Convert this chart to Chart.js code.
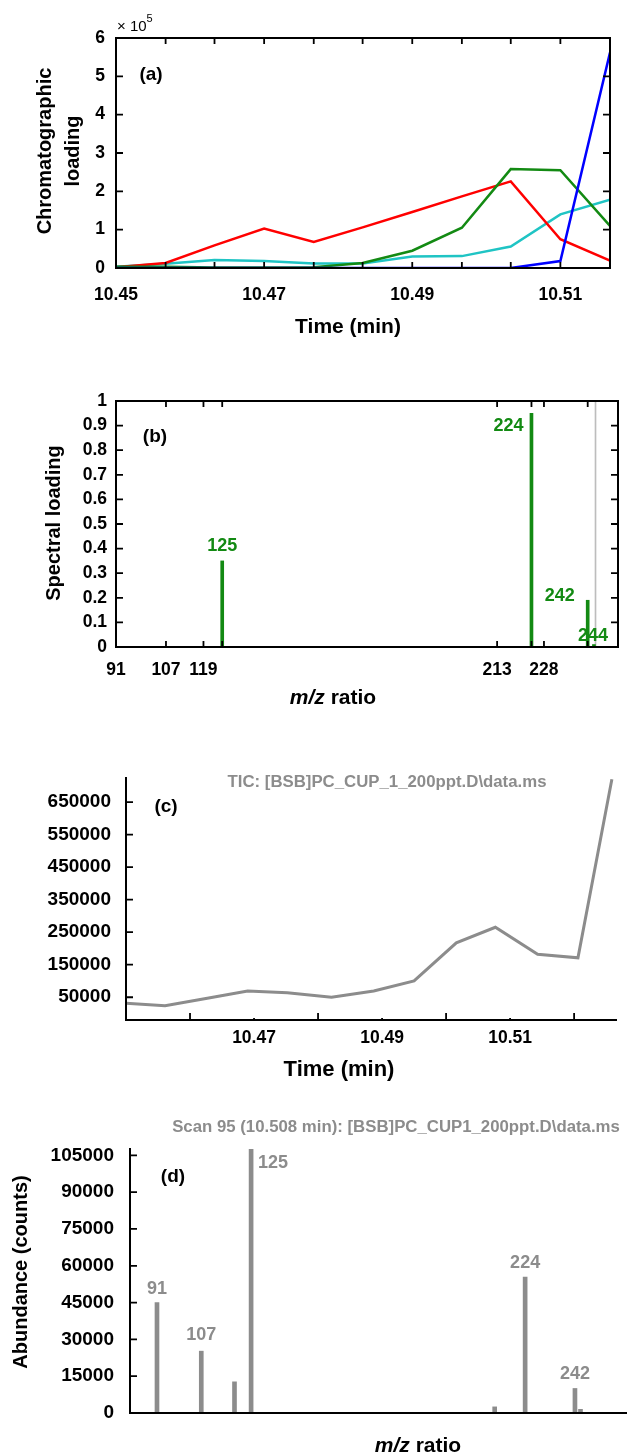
<!DOCTYPE html>
<html>
<head>
<meta charset="utf-8">
<script src="https://cdn.jsdelivr.net/npm/chart.js@4.4.1/dist/chart.umd.min.js"></script>
<style>
  html, body { margin: 0; padding: 0; background: #fff; }
  body { width: 627px; height: 1456px; position: relative; overflow: hidden; }
  .panel { position: absolute; left: 0; width: 627px; }
  .panel canvas { display: block; }
</style>
</head>
<body>
<div class="panel" style="top:0;height:340px"><canvas id="chartA"></canvas></div>
<div class="panel" style="top:340px;height:380px"><canvas id="chartB"></canvas></div>
<div class="panel" style="top:720px;height:370px"><canvas id="chartC"></canvas></div>
<div class="panel" style="top:1090px;height:366px"><canvas id="chartD"></canvas></div>
<script>
// (a) chromatographic loadings, in units of 1e5
const timesA = [10.45, 10.4567, 10.4633, 10.47, 10.4767, 10.4833, 10.49, 10.4967, 10.5033, 10.51, 10.5167];
const timeLabelsA = [10.45, 10.47, 10.49, 10.51];
const loadRed   = [0.02, 0.13, 0.59, 1.03, 0.68, 1.06, 1.46, 1.87, 2.26, 0.75, 0.19];
const loadGreen = [0.03, 0.03, 0.01, 0.01, 0.02, 0.13, 0.45, 1.05, 2.58, 2.55, 1.10];
const loadCyan  = [0.03, 0.11, 0.21, 0.18, 0.12, 0.12, 0.30, 0.31, 0.56, 1.40, 1.78];
const loadBlue  = [0, 0, 0, 0, 0, 0, 0, 0, 0, 0.18, 5.62];

// (b) spectral loading of the green component
const mzB = [125, 224, 242, 244];
const spectralB = [0.35, 0.95, 0.19, 0.01];
const guideMzB = 244.5;
const mzTicksB = [91, 107, 119, 125, 213, 224, 228, 242];
const mzLabelsB = [91, 107, 119, 213, 228];

// (c) total ion chromatogram
const timesC = [10.4500, 10.4561, 10.4627, 10.4690, 10.4752, 10.4821, 10.4887, 10.4950, 10.5016, 10.5077, 10.5143, 10.5206, 10.5259];
const ticC = [31600, 24000, 47000, 69000, 64000, 50000, 69000, 100000, 217000, 265000, 182000, 171000, 720000];
const timeTicksC = [10.46, 10.47, 10.48, 10.49, 10.50, 10.51, 10.52];
const timeLabelsC = [10.47, 10.49, 10.51];
const abundTicksC = [50000, 150000, 250000, 350000, 450000, 550000, 650000];

// (d) mass spectrum, scan 95
const mzD = [91, 107, 119, 125, 213, 224, 242, 244];
const abundD = [45000, 25200, 12700, 107500, 2500, 55400, 10000, 1500];
const abundTicksD = [0, 15000, 30000, 45000, 60000, 75000, 90000, 105000];

const FAMILY = '"Liberation Sans", Arial, Helvetica, sans-serif';
const font = (size, style = 'bold') => `${style} ${size}px ${FAMILY}`;
const GREY = '#8c8c8c';
const GREEN = '#138a13';

Chart.defaults.font.family = FAMILY;
Chart.defaults.font.weight = 'bold';
Chart.defaults.color = '#000';
Chart.defaults.animation = false;
Chart.defaults.events = [];
Chart.defaults.plugins.legend.display = false;
Chart.defaults.plugins.tooltip.enabled = false;

// box / axis lines with inward tick marks
const frame = {
  id: 'frame',
  afterDatasetsDraw(chart, args, opts) {
    const { ctx, chartArea: a, scales: { x, y } } = chart;
    ctx.save();
    ctx.strokeStyle = '#000';
    ctx.lineWidth = 2;
    ctx.beginPath();
    if (opts.box) ctx.rect(a.left, a.top, a.right - a.left, a.bottom - a.top);
    else { ctx.moveTo(a.left, a.top); ctx.lineTo(a.left, a.bottom); ctx.lineTo(a.right, a.bottom); }
    ctx.stroke();
    ctx.lineWidth = 1.8;
    ctx.beginPath();
    if (opts.xTick) for (const t of x.ticks) {
      const len = opts.xTick(t.value);
      const px = x.getPixelForValue(t.value);
      ctx.moveTo(px, a.bottom); ctx.lineTo(px, a.bottom - len);
      if (opts.box) { ctx.moveTo(px, a.top); ctx.lineTo(px, a.top + len); }
    }
    if (opts.yTick) for (const t of y.ticks) {
      const py = y.getPixelForValue(t.value);
      ctx.moveTo(a.left, py); ctx.lineTo(a.left + opts.yTick, py);
      if (opts.box) { ctx.moveTo(a.right, py); ctx.lineTo(a.right - opts.yTick, py); }
    }
    ctx.stroke();
    ctx.restore();
  }
};

// m/z numbers next to the peaks
const peakLabels = {
  id: 'peakLabels',
  afterDatasetsDraw(chart, args, opts) {
    if (!opts.place) return;
    const { ctx, scales: { x, y } } = chart;
    ctx.save();
    ctx.font = opts.font;
    ctx.fillStyle = opts.color;
    ctx.textBaseline = 'middle';
    for (const p of chart.data.datasets[0].data) {
      const pl = opts.place[p.x];
      if (!pl) continue;
      ctx.textAlign = pl.align || 'center';
      ctx.fillText(String(p.x), x.getPixelForValue(p.x) + (pl.dx || 0), y.getPixelForValue(p.y) + (pl.dy || 0));
    }
    ctx.restore();
  }
};

// free text: panel tags, axis titles, file captions
const notes = {
  id: 'notes',
  afterDraw(chart, args, opts) {
    const ctx = chart.ctx;
    for (const it of opts.items || []) {
      const parts = it.parts || [[it.text, it.font]];
      ctx.save();
      ctx.translate(it.x, it.y);
      if (it.rotate) ctx.rotate(it.rotate);
      ctx.textBaseline = 'middle';
      ctx.textAlign = 'left';
      ctx.fillStyle = it.color || '#000';
      let w = 0;
      for (const [s, f] of parts) { ctx.font = f; w += ctx.measureText(s).width; }
      let cx = it.align === 'left' ? 0 : -w / 2;
      for (const [s, f, dy] of parts) {
        ctx.font = f;
        ctx.fillText(s, cx, dy || 0);
        cx += ctx.measureText(s).width;
      }
      ctx.restore();
    }
  }
};

const bare = { grid: { display: false, drawTicks: false }, border: { display: false } };
const pts = (xs, ys) => xs.map((v, i) => ({ x: v, y: ys[i] }));
const line = (xs, ys, color, width) => ({
  data: pts(xs, ys), borderColor: color, borderWidth: width, pointRadius: 0, tension: 0, fill: false
});
const UP = -Math.PI / 2;

// (a)
new Chart(document.getElementById('chartA'), {
  type: 'line',
  data: { datasets: [
    line(timesA, loadBlue, '#0000ff', 2.5),
    line(timesA, loadGreen, GREEN, 2.5),
    line(timesA, loadRed, '#ff0000', 2.5),
    line(timesA, loadCyan, '#1fc4c4', 2.5)
  ] },
  plugins: [frame, notes],
  options: {
    responsive: true, maintainAspectRatio: false,
    layout: { padding: { top: 38, right: 15, left: 0, bottom: 0 } },
    scales: {
      x: { type: 'linear', min: timesA[0], max: timesA[timesA.length - 1], ...bare,
        afterBuildTicks: s => { s.ticks = timesA.map(v => ({ value: v })); },
        afterFit: s => { s.height = 72; },
        ticks: { autoSkip: false, maxRotation: 0, padding: 17, font: { size: 17.5 },
          callback: v => timeLabelsA.includes(v) ? v.toFixed(2) : '' } },
      y: { min: 0, max: 6, ...bare,
        afterFit: s => { s.width = 116; },
        ticks: { stepSize: 1, padding: 11, font: { size: 17.5 } } }
    },
    plugins: {
      frame: { box: true, xTick: () => 6, yTick: 7 },
      notes: { items: [
        { parts: [['\u00d7 10', font(15, 'normal')], ['5', font(11, 'normal'), -8]], x: 117, y: 27, align: 'left' },
        { text: '(a)', font: font(19), x: 151, y: 75 },
        { text: 'Chromatographic', font: font(20), x: 45, y: 151, rotate: UP },
        { text: 'loading', font: font(20), x: 73, y: 151, rotate: UP },
        { text: 'Time (min)', font: font(21), x: 348, y: 327 }
      ] }
    }
  }
});

// (b)
new Chart(document.getElementById('chartB'), {
  type: 'bar',
  data: { datasets: [
    { data: pts(mzB, spectralB), backgroundColor: GREEN, barThickness: 3, grouped: false },
    { data: [{ x: guideMzB, y: 1 }], backgroundColor: '#bdbdbd', barThickness: 1, grouped: false }
  ] },
  plugins: [frame, peakLabels, notes],
  options: {
    responsive: true, maintainAspectRatio: false,
    layout: { padding: { top: 61, right: 9, left: 0, bottom: 0 } },
    scales: {
      x: { type: 'linear', min: 91, max: 251.7, offset: false, ...bare,
        afterBuildTicks: s => { s.ticks = mzTicksB.map(v => ({ value: v })); },
        afterFit: s => { s.height = 73; },
        ticks: { autoSkip: false, maxRotation: 0, padding: 13, font: { size: 17.5 },
          callback: v => mzLabelsB.includes(v) ? String(v) : '' } },
      y: { min: 0, max: 1, ...bare,
        afterFit: s => { s.width = 116; },
        ticks: { stepSize: 0.1, padding: 9, font: { size: 17.5 }, callback: v => String(+v.toFixed(1)) } }
    },
    plugins: {
      frame: { box: true, xTick: () => 6, yTick: 7 },
      peakLabels: { font: font(18), color: GREEN, place: {
        125: { dy: -15 },
        224: { align: 'right', dx: -8, dy: 13 },
        242: { align: 'right', dx: -13, dy: -4 },
        244: { dx: -1, dy: -9 }
      } },
      notes: { items: [
        { text: '(b)', font: font(19), x: 155, y: 97 },
        { text: 'Spectral loading', font: font(20), x: 54, y: 183, rotate: UP },
        { parts: [['m/z', font(21, 'italic bold')], [' ratio', font(21)]], x: 333, y: 358 }
      ] }
    }
  }
});

// (c)
new Chart(document.getElementById('chartC'), {
  type: 'line',
  data: { datasets: [line(timesC, ticC, GREY, 3)] },
  plugins: [frame, notes],
  options: {
    responsive: true, maintainAspectRatio: false,
    layout: { padding: { top: 57, right: 10, left: 0, bottom: 0 } },
    scales: {
      x: { type: 'linear', min: 10.45, max: 10.5267, ...bare,
        afterBuildTicks: s => { s.ticks = timeTicksC.map(v => ({ value: v })); },
        afterFit: s => { s.height = 70; },
        ticks: { autoSkip: false, maxRotation: 0, padding: 8, font: { size: 17.5 },
          callback: v => timeLabelsC.includes(v) ? v.toFixed(2) : '' } },
      y: { min: -20000, max: 727000, ...bare,
        afterBuildTicks: s => { s.ticks = abundTicksC.map(v => ({ value: v })); },
        afterFit: s => { s.width = 126; },
        ticks: { padding: 15, font: { size: 19 }, callback: v => String(v) } }
    },
    plugins: {
      frame: { box: false, xTick: v => timeLabelsC.includes(v) ? 2 : 7, yTick: 7 },
      notes: { items: [
        { text: 'TIC: [BSB]PC_CUP_1_200ppt.D\\data.ms', font: font(16.8), color: GREY, x: 387, y: 62 },
        { text: '(c)', font: font(19), x: 166, y: 87 },
        { text: 'Time (min)', font: font(22), x: 339, y: 350 }
      ] }
    }
  }
});

// (d)
new Chart(document.getElementById('chartD'), {
  type: 'bar',
  data: { datasets: [{ data: pts(mzD, abundD), backgroundColor: GREY, barThickness: 4, grouped: false }] },
  plugins: [frame, peakLabels, notes],
  options: {
    responsive: true, maintainAspectRatio: false,
    layout: { padding: { top: 58, right: 0, left: 0, bottom: 0 } },
    scales: {
      x: { type: 'linear', min: 81.25, max: 260.8, offset: false, ...bare,
        afterFit: s => { s.height = 43; },
        ticks: { display: false } },
      y: { min: 0, max: 108000, ...bare,
        afterBuildTicks: s => { s.ticks = abundTicksD.map(v => ({ value: v })); },
        afterFit: s => { s.width = 130; },
        ticks: { padding: 16, font: { size: 19 }, callback: v => String(v) } }
    },
    plugins: {
      frame: { box: false, xTick: null, yTick: 7 },
      peakLabels: { font: font(18), color: GREY, place: {
        91: { dy: -14 },
        107: { dy: -16 },
        125: { align: 'left', dx: 7, dy: 14 },
        224: { dy: -14 },
        242: { dy: -14 }
      } },
      notes: { items: [
        { text: 'Scan 95 (10.508 min): [BSB]PC_CUP1_200ppt.D\\data.ms', font: font(16.8), color: GREY, x: 396, y: 37 },
        { text: '(d)', font: font(19), x: 173, y: 87 },
        { text: 'Abundance (counts)', font: font(20), x: 21, y: 182, rotate: UP },
        { parts: [['m/z', font(21, 'italic bold')], [' ratio', font(21)]], x: 418, y: 356 }
      ] }
    }
  }
});
</script>
</body>
</html>
